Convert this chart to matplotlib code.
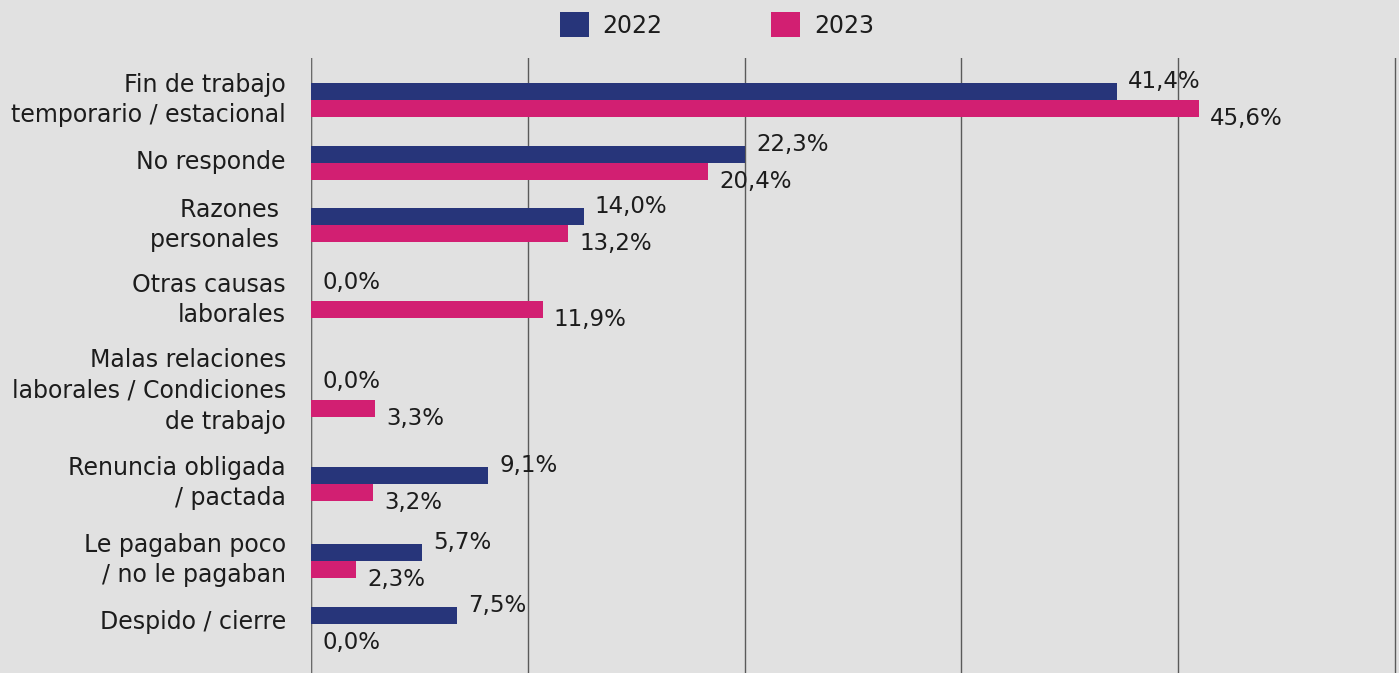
import matplotlib
matplotlib.use("Agg")
import matplotlib.pyplot as plt
from matplotlib.patches import Patch
import matplotlib.transforms as mtransforms
import numpy as np

# datos
categorias = [
    "Fin de trabajo\ntemporario / estacional",
    "No responde",
    "Razones \npersonales ",
    "Otras causas\nlaborales",
    "Malas relaciones\nlaborales / Condiciones\nde trabajo",
    "Renuncia obligada\n/ pactada",
    "Le pagaban poco\n/ no le pagaban",
    "Despido / cierre",
]
valores_2022 = [41.4, 22.3, 14.0, 0.0, 0.0, 9.1, 5.7, 7.5]
valores_2023 = [45.6, 20.4, 13.2, 11.9, 3.3, 3.2, 2.3, 0.0]
series = ["2022", "2023"]

# diseño (posiciones en pixeles de la figura)
W, H = 1399, 673
y_pos = np.array([100, 163, 225, 301, 400, 484, 561, 624])
y_etiq = np.array([100, 162, 225, 300, 391, 483, 560, 622])
bar_h = 16.7
x_max = 55.67
col_2022 = "#27357a"
col_2023 = "#d21f72"
fondo = "#e1e1e1"
texto = "#1c1c1c"

plt.rcParams['font.family'] = ['DejaVu Sans']

fig = plt.figure(figsize=(W / 100, H / 100), dpi=100, facecolor=fondo)
ax = fig.add_axes([311 / W, 0, (1397 - 311) / W, (H - 58) / H])
ax.set_facecolor(fondo)

ax.barh(y_pos - bar_h / 2, valores_2022, height=bar_h, color=col_2022, zorder=3)
ax.barh(y_pos + bar_h / 2, valores_2023, height=bar_h, color=col_2023, zorder=3)

def fmt(v):
    return f"{v:.1f}%".replace(".", ",")

for y, v in zip(y_pos, valores_2022):
    ax.annotate(fmt(v), (v, y - bar_h / 2), xytext=(8, 7), textcoords="offset points",
                ha="left", va="center", fontsize=16.5, color=texto, zorder=4)
for y, v in zip(y_pos, valores_2023):
    ax.annotate(fmt(v), (v, y + bar_h / 2), xytext=(8, -7), textcoords="offset points",
                ha="left", va="center", fontsize=16.5, color=texto, zorder=4)

ax.set_xlim(0, x_max * (1397 - 311) / (1395 - 311))
ax.set_ylim(H, 58)
ax.set_xticks(np.linspace(0, x_max, 6))
ax.tick_params(axis="x", length=0, labelbottom=False)
ax.grid(axis="x", color="#5a5a5a", linewidth=1, zorder=1)
ax.grid(axis="y", visible=False)
for s in ax.spines.values():
    s.set_visible(False)
ax.axvline(0, color="#6a6a6a", linewidth=1.6, zorder=2)

# etiquetas de categorias
ax.set_yticks([])
trans = mtransforms.blended_transform_factory(ax.transAxes, ax.transData) + \
    mtransforms.ScaledTranslation(-25 / 100, 0, fig.dpi_scale_trans)
for y, c in zip(y_etiq, categorias):
    ax.text(0, y, c, transform=trans, ha="right", va="center", fontsize=17,
            color=texto, linespacing=1.35)

handles = [Patch(facecolor=col_2022), Patch(facecolor=col_2023)]
fig.legend(handles, series, loc="center", bbox_to_anchor=(717 / W, 1 - 25 / H), ncol=2,
           frameon=False, fontsize=17, handlelength=1.2, handleheight=1.25,
           handletextpad=0.6, columnspacing=4.6, labelcolor=texto)

fig.savefig("out.png", dpi=100, facecolor=fondo)
